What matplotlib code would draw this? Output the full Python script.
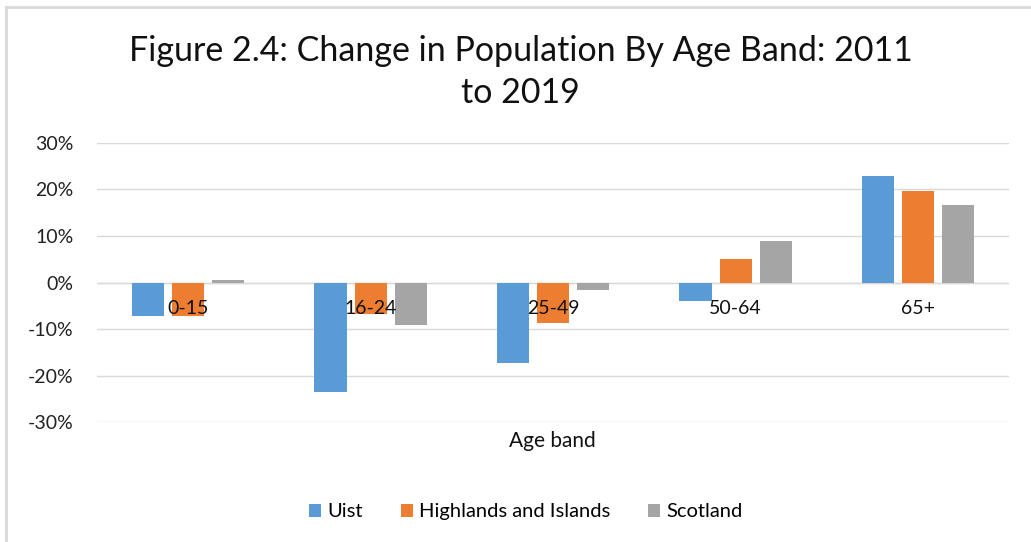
import numpy as np
import matplotlib.pyplot as plt
from matplotlib.lines import Line2D

plt.rcParams['font.family'] = ['Lato', 'DejaVu Sans']

# data (percent change 2011-2019)
bands = ["0-15", "16-24", "25-49", "50-64", "65+"]
uist = [-7.2, -23.5, -17.2, -4.0, 22.8]
highlands = [-7.2, -6.8, -8.7, 5.0, 19.7]
scotland = [0.6, -9.2, -1.5, 8.9, 16.6]
series_names = ["Uist", "Highlands and Islands", "Scotland"]
colors = ["#5b9bd5", "#ed7d31", "#a5a5a5"]

fig = plt.figure(figsize=(10.31, 5.42), dpi=100)
ax = fig.add_axes([0.094, 0.2208, 0.885, 0.5159])

x = np.arange(len(bands))
w = 0.176
step = 0.22
for i, (vals, name, c) in enumerate(zip([uist, highlands, scotland], series_names, colors)):
    ax.bar(x + (i - 1) * step, vals, width=w, color=c, label=name, zorder=3)

ax.set_xlim(-0.5, len(bands) - 0.5)
ax.set_ylim(-30, 30)
ax.set_yticks(np.arange(-30, 31, 10))
ax.set_yticklabels([f"{v}%" for v in range(-30, 31, 10)], fontsize=14, color="#222222")
ax.tick_params(axis='y', length=0, pad=17)
ax.grid(axis='y', color="#d9d9d9", linewidth=1, zorder=0)
ax.axhline(0, color="#d9d9d9", linewidth=1, zorder=1)
for s in ax.spines.values():
    s.set_visible(False)

# category labels just below the zero line
ax.set_xticks([])
for xi, lab in zip(x, bands):
    ax.text(xi, -5.5, lab, ha='center', va='center', fontsize=14, color="#111111", zorder=4)

fig.text(0.536, 0.186, "Age band", ha='center', va='center', fontsize=15, color="#111111")

fig.text(0.505, 0.906, "Figure 2.4: Change in Population By Age Band: 2011", ha='center', va='center',
         fontsize=24.5, color="#111111")
fig.text(0.505, 0.828, "to 2019", ha='center', va='center', fontsize=24.5, color="#111111")

ax.legend(loc='center', bbox_to_anchor=(0.47, -0.32), ncol=3, frameon=False, fontsize=14.5,
          handlelength=0.6, handleheight=0.6, handletextpad=0.3, columnspacing=1.9)

# chart frame (left and top)
fig.add_artist(Line2D([0.006, 0.006], [0.0, 0.987], color="#d9d9d9", linewidth=2, transform=fig.transFigure))
fig.add_artist(Line2D([0.006, 1.0], [0.987, 0.987], color="#d9d9d9", linewidth=2, transform=fig.transFigure))

fig.savefig("out.png", dpi=100, facecolor="white")
